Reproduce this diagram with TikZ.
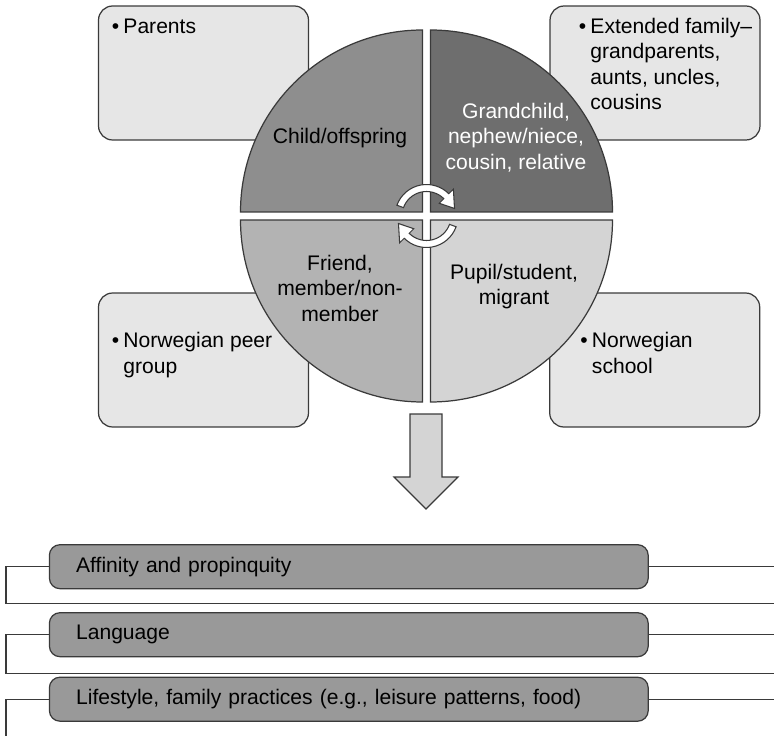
\documentclass[tikz,border=0pt]{standalone}
\usepackage{fontspec}
\setmainfont{Liberation Sans}
\usepackage{tikz}
\usetikzlibrary{calc}
\definecolor{childgray}{HTML}{8E8E8E}
\definecolor{kingray}{HTML}{6E6E6E}
\definecolor{friendgray}{HTML}{B3B3B3}
\definecolor{pupilgray}{HTML}{D4D4D4}
\definecolor{boxgray}{HTML}{E6E6E6}
\definecolor{bargray}{HTML}{999999}
\definecolor{edgegray}{HTML}{3A3A3A}
\tikzset{
  cornerbox/.style={draw=edgegray,fill=boxgray,line width=0.7pt,rounded corners=8pt,
    minimum width=4.2cm,minimum height=2.68cm,inner sep=0pt},
  quadrant/.style={draw=edgegray,line width=0.7pt},
  roletext/.style={font=\fontsize{12}{14.5}\selectfont,align=center,inner sep=0pt},
  boxtext/.style={font=\fontsize{12}{14.5}\selectfont,inner sep=0pt,anchor=north west},
  bartag/.style={draw=edgegray,fill=bargray,line width=0.7pt,rounded corners=6pt,
    minimum height=0.88cm,text width=10.91cm,inner xsep=0.534cm,inner ysep=0pt,
    align=left,font=\fontsize{12}{14.5}\selectfont},
  cyclearrow/.style={fill=white,draw=edgegray,line width=0.6pt},
  bigarrow/.style={fill=pupilgray,draw=edgegray,line width=0.7pt},
  link/.style={edgegray,line width=0.6pt}
}
\newcommand{\bulletlist}[1]{\begin{tabular}{@{}l@{\hspace{2.4pt}}l@{}}#1\end{tabular}}

\begin{document}
\begin{tikzpicture}[x=0.02cm,y=0.02cm]
\useasboundingbox (0,0) rectangle (774,-736);

% the four settings
\node[cornerbox] (parentsBox) at (203.5,-73) {};
\node[cornerbox] (familyBox) at (655,-73) {};
\node[cornerbox] (peerBox) at (203.5,-360) {};
\node[cornerbox] (schoolBox) at (654.7,-360) {};
\node[boxtext] (parentsTxt) at (111.5,-15) {\bulletlist{\textbullet & Parents}};
\node[boxtext] (familyTxt) at (578.5,-15) {\bulletlist{\textbullet & Extended family--\\ & grandparents,\\ & aunts, uncles,\\ & cousins}};
\node[boxtext] (peerTxt) at (111.5,-329.7) {\bulletlist{\textbullet & Norwegian peer\\ & group}};
\node[boxtext] (schoolTxt) at (580,-329.7) {\bulletlist{\textbullet & Norwegian\\ & school}};

% roles
\filldraw[quadrant,fill=childgray] (422.5,-212) -- ++(-182,0) arc[start angle=180,end angle=90,radius=182] -- cycle;
\filldraw[quadrant,fill=kingray] (430.5,-212) -- ++(0,182) arc[start angle=90,end angle=0,radius=182] -- cycle;
\filldraw[quadrant,fill=friendgray] (422.5,-220) -- ++(-182,0) arc[start angle=180,end angle=270,radius=182] -- cycle;
\filldraw[quadrant,fill=pupilgray] (430.5,-220) -- ++(182,0) arc[start angle=0,end angle=-90,radius=182] -- cycle;
\node[roletext] (childTxt) at (340,-138) {Child/offspring};
\node[roletext,text=white] (kinTxt) at (516,-137.5) {Grandchild,\\nephew/niece,\\cousin, relative};
\node[roletext] (friendTxt) at (340,-288) {Friend,\\member/non-\\member};
\node[roletext] (pupilTxt) at (514,-286.5) {Pupil/student,\\migrant};

\foreach \rot in {0,180}
  \filldraw[cyclearrow,shift={(426.5,-216)},rotate=\rot] (160:31.5) arc[start angle=160,end angle=45,radius=31.5]
    -- (45:38) -- (15:29) -- (45:18) -- (45:24.5) arc[start angle=45,end angle=160,radius=24.5] -- cycle;

\filldraw[bigarrow] (410,-414) -- (442,-414) -- (442,-477) -- (458,-477) -- (426,-509) -- (394,-477) -- (410,-477) -- cycle;

% outcomes
\node[bartag] (bar1) at (348.8,-566.7) {Affinity and propinquity};
\node[bartag] (bar2) at (348.8,-634.7) {Language};
\node[bartag] (bar3) at (348.8,-699.2) {Lifestyle, family practices (e.g., leisure patterns, food)};
\coordinate (low1) at (6,-603.3);
\coordinate (rail1) at (774,-603.3);
\coordinate (low2) at (6,-673.3);
\coordinate (rail2) at (774,-673.3);
\coordinate (low3) at (6,-736);
\foreach \b in {1,2}
  \draw[link] (bar\b.west) -| (low\b) -- (rail\b);
\draw[link] (bar3.west) -| (low3);
\foreach \b in {1,2,3}
  \draw[link] (bar\b.east) -- (bar\b.east -| rail1);
\end{tikzpicture}
\end{document}
